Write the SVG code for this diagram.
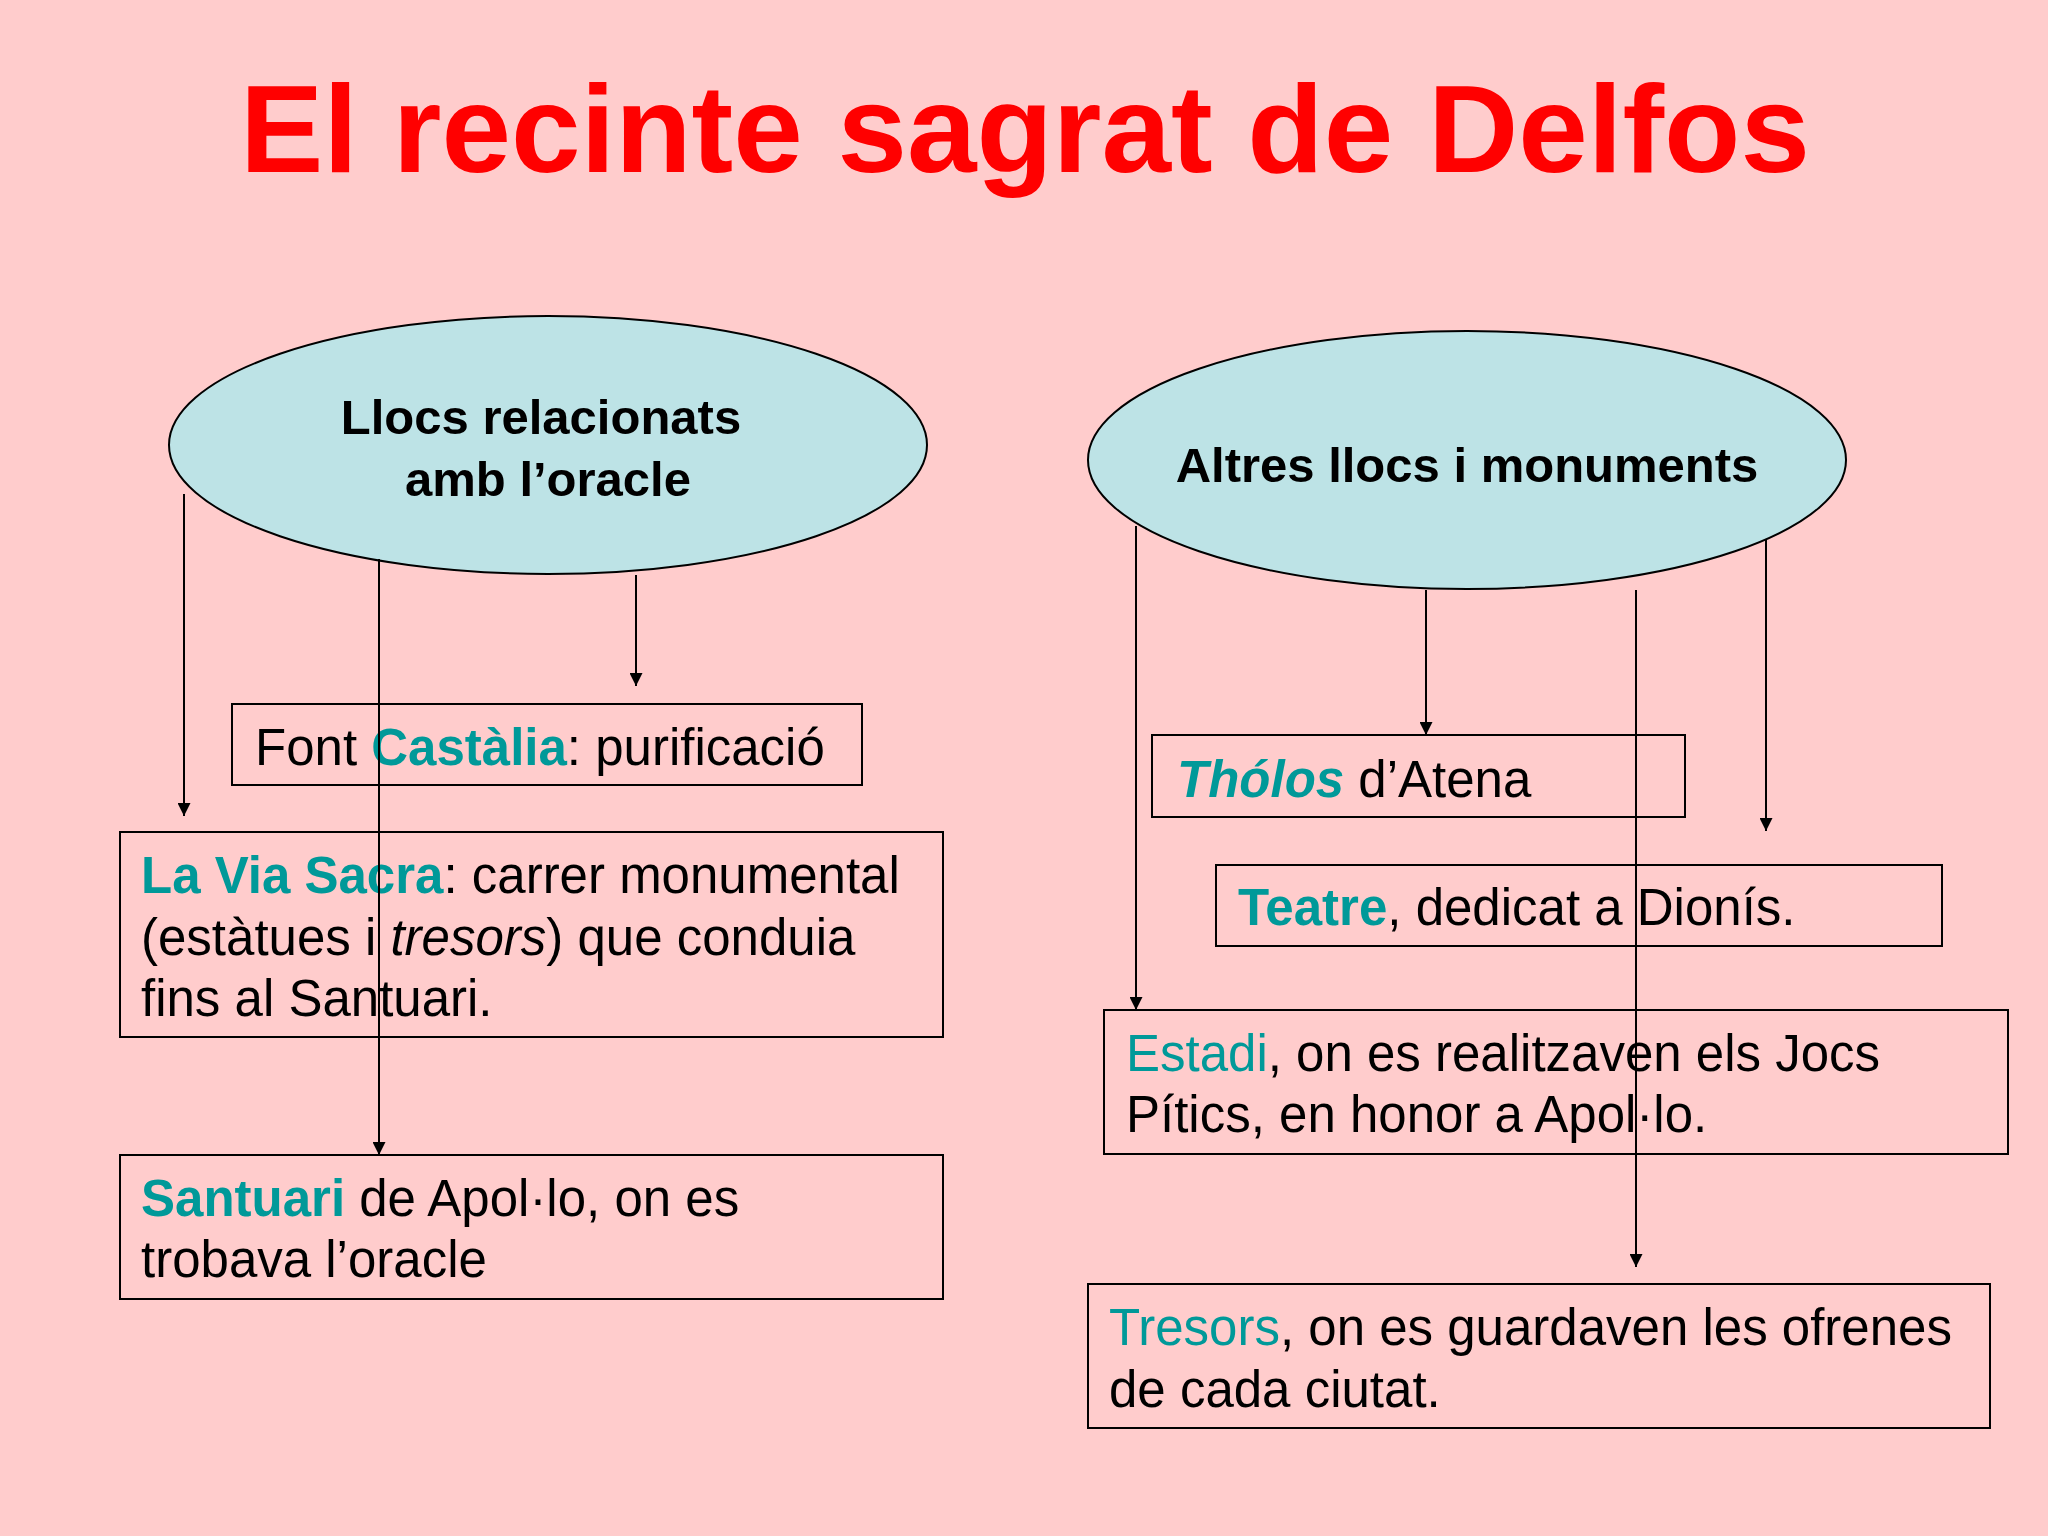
<svg xmlns="http://www.w3.org/2000/svg" width="2048" height="1536" viewBox="0 0 2048 1536">
<style>
.t{font-family:"Liberation Sans",Arial,sans-serif;font-size:51px;fill:#000}
.h{font-family:"Liberation Sans",Arial,sans-serif;font-size:49px;font-weight:bold;fill:#000;text-anchor:middle}
.c{fill:#009999}
.b{font-weight:bold}
.box{fill:none;stroke:#000;stroke-width:2}
.ell{fill:#bde3e6;stroke:#000;stroke-width:2}
.con line{stroke:#000;stroke-width:2;marker-end:url(#a)}
</style>
<defs><marker id="a" viewBox="0 0 10 10" refX="10" refY="5" markerWidth="13" markerHeight="13" markerUnits="userSpaceOnUse" orient="auto"><path d="M0,0L10,5L0,10z" fill="#000"/></marker></defs>
<rect width="2048" height="1536" fill="#ffcccc"/>
<text x="1025" y="172" font-family="Liberation Sans,Arial,sans-serif" font-size="125" font-weight="bold" fill="#ff0000" text-anchor="middle">El recinte sagrat de Delfos</text>
<g id="n1"><ellipse class="ell" cx="548" cy="445" rx="379" ry="129"/><text class="h" x="541" y="434">Llocs relacionats</text><text class="h" x="548" y="496">amb l’oracle</text></g>
<g id="n2"><ellipse class="ell" cx="1467" cy="460" rx="379" ry="129"/><text class="h" x="1467" y="482">Altres llocs i monuments</text></g>
<g id="n3"><rect class="box" x="232" y="704" width="630" height="81"/><text class="t" x="255" y="765">Font <tspan class="c b">Castàlia</tspan>: purificació</text></g>
<g id="n4"><rect class="box" x="120" y="832" width="823" height="205"/><text class="t" x="141" y="893"><tspan class="c b">La Via Sacra</tspan>: carrer monumental</text><text class="t" x="141" y="955">(estàtues i <tspan font-style="italic">tresors</tspan>) que conduia</text><text class="t" x="141" y="1016">fins al Santuari.</text></g>
<g id="n5"><rect class="box" x="120" y="1155" width="823" height="144"/><text class="t" x="141" y="1216"><tspan class="c b">Santuari</tspan> de Apol·lo, on es</text><text class="t" x="141" y="1277">trobava l’oracle</text></g>
<g id="n6"><rect class="box" x="1152" y="735" width="533" height="82"/><text class="t" x="1177" y="797"><tspan class="c b" font-style="italic">Thólos</tspan> d’Atena</text></g>
<g id="n7"><rect class="box" x="1216" y="865" width="726" height="81"/><text class="t" x="1238" y="925"><tspan class="c b">Teatre</tspan>, dedicat a Dionís.</text></g>
<g id="n8"><rect class="box" x="1104" y="1010" width="904" height="144"/><text class="t" x="1126" y="1071"><tspan class="c">Estadi</tspan>, on es realitzaven els Jocs</text><text class="t" x="1126" y="1132">Pítics, en honor a Apol·lo.</text></g>
<g id="n9"><rect class="box" x="1088" y="1284" width="902" height="144"/><text class="t" x="1109" y="1345"><tspan class="c">Tresors</tspan>, on es guardaven les ofrenes</text><text class="t" x="1109" y="1407">de cada ciutat.</text></g>
<g id="connectors" class="con">
<line x1="184" y1="494" x2="184" y2="816"/>
<line x1="379" y1="559" x2="379" y2="1155"/>
<line x1="636" y1="575" x2="636" y2="686"/>
<line x1="1136" y1="526" x2="1136" y2="1010"/>
<line x1="1426" y1="590" x2="1426" y2="735"/>
<line x1="1636" y1="590" x2="1636" y2="1267"/>
<line x1="1766" y1="539" x2="1766" y2="831"/>
</g>
</svg>
